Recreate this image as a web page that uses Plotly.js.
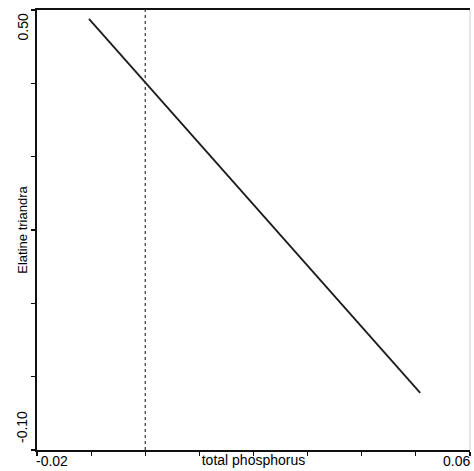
<!DOCTYPE html>
<html><head><meta charset="utf-8">
<script src="https://cdn.plot.ly/plotly-3.0.1.min.js"></script>
<style>html,body{margin:0;padding:0;background:#fff}#p{width:474px;height:471px}</style>
</head><body><div id="p"></div>
<script>
const lineX = [-0.0104, 0.0508];
const lineY = [0.488, -0.022];
const refLineX = 0;
const xTickVals = [-0.02, -0.01, 0, 0.01, 0.02, 0.03, 0.04, 0.05, 0.06];
const yTickVals = [-0.1, 0, 0.1, 0.2, 0.3, 0.4, 0.5];
const xLabels = [{v: -0.02, t: '-0.02'}, {v: 0.06, t: '0.06'}];
const yLabels = [{v: 0.5, t: '0.50'}, {v: -0.1, t: '-0.10'}];
const xTitle = 'total phosphorus';
const yTitle = 'Elatine triandra';

const font = 'Liberation Sans, Arial, sans-serif';
const tf = {family: font, size: 14, color: '#000'};
const annotations = [];
annotations.push({x: xLabels[0].v, y: 0, xref: 'x', yref: 'paper', text: xLabels[0].t, showarrow: false,
  xanchor: 'left', yanchor: 'top', yshift: -1, xshift: -3, font: tf});
annotations.push({x: 1, y: 0, xref: 'paper', yref: 'paper', text: xLabels[1].t, showarrow: false,
  xanchor: 'right', yanchor: 'top', yshift: -1, xshift: 2, font: tf});
annotations.push({x: 0, y: yLabels[0].v, xref: 'paper', yref: 'y', text: yLabels[0].t, showarrow: false,
  textangle: -90, xanchor: 'right', yanchor: 'top', xshift: -5, yshift: -2, font: tf});
annotations.push({x: 0, y: yLabels[1].v, xref: 'paper', yref: 'y', text: yLabels[1].t, showarrow: false,
  textangle: -90, xanchor: 'right', yanchor: 'bottom', xshift: -5, yshift: 5, font: tf});

const data = [{x: lineX, y: lineY, mode: 'lines', line: {color: '#1a1a1a', width: 1.8}, hoverinfo: 'skip'}];
const layout = {
  width: 474, height: 471,
  margin: {l: 37, r: 4, t: 10, b: 21},
  paper_bgcolor: '#fff', plot_bgcolor: '#fff',
  showlegend: false,
  xaxis: {range: [-0.02, 0.06], tickvals: xTickVals, showticklabels: false, ticks: 'outside', ticklen: 4,
    tickcolor: '#111', tickwidth: 1.2, showline: true, linecolor: '#111', linewidth: 2, mirror: true,
    showgrid: false, zeroline: false,
    title: {text: xTitle, font: {family: font, size: 14, color: '#000'}, standoff: 0}},
  yaxis: {range: [-0.1, 0.5], tickvals: yTickVals, showticklabels: false, ticks: 'outside', ticklen: 4,
    tickcolor: '#111', tickwidth: 1.2, showline: true, linecolor: '#111', linewidth: 2,
    showgrid: false, zeroline: false,
    title: {text: yTitle, font: {family: font, size: 13, color: '#000'}, standoff: 0}},
  shapes: [
    {type: 'line', xref: 'x', yref: 'paper', x0: refLineX, x1: refLineX, y0: 0, y1: 1,
     line: {color: '#333', width: 1.2, dash: 'dot'}},
    {type: 'line', xref: 'paper', yref: 'paper', x0: 1, x1: 1, y0: 0, y1: 1,
     line: {color: '#ccc', width: 1}}
  ],
  annotations: annotations
};
Plotly.newPlot('p', data, layout, {staticPlot: true, displayModeBar: false});
</script></body></html>
